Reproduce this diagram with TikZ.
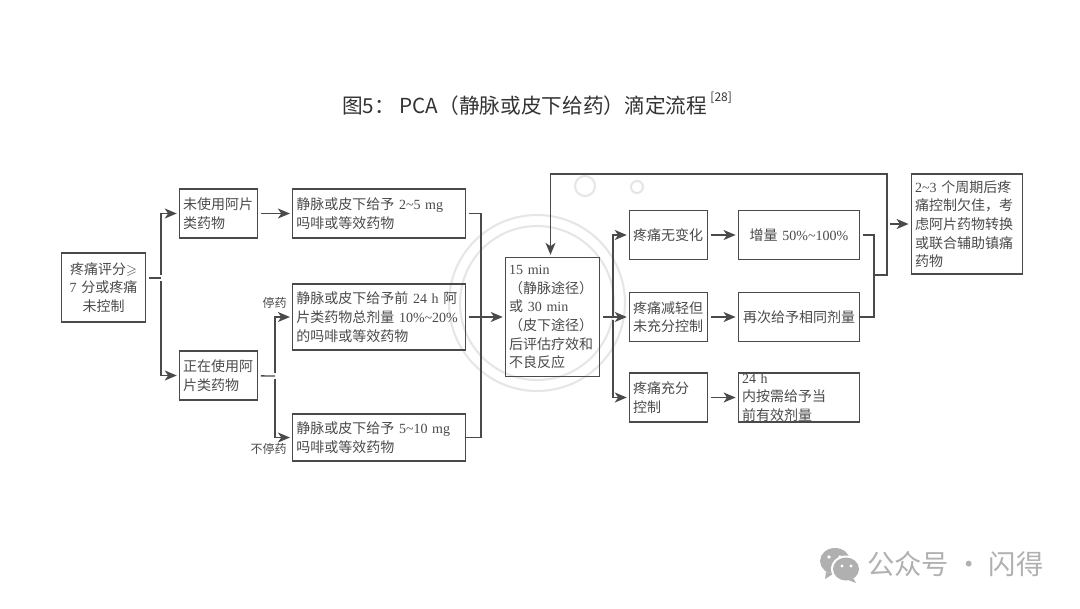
\documentclass[tikz,border=0pt]{standalone}
\usepackage{amssymb}
\usepackage{fontspec}
\setmainfont{Noto Sans CJK SC}
\newfontfamily\enfont{Liberation Serif}
\newcommand{\en}[1]{{\enfont #1}}
\newcommand{\tld}{\textasciitilde}
\usetikzlibrary{arrows.meta}
\definecolor{ink}{HTML}{4A4A4A}
\definecolor{sealgray}{HTML}{E6E6E6}
\definecolor{acctgray}{HTML}{B0B0B0}
\tikzstyle{box} = [rectangle, draw=ink, line width=1pt, text=ink, inner xsep=2.8pt, inner ysep=0pt, align=left, font=\fontsize{10.5}{14}\selectfont]
\tikzstyle{startbox} = [box, text width=57pt, minimum height=51.75pt, align=center]
\tikzstyle{askbox} = [box, text width=53pt, minimum height=36.75pt]
\tikzstyle{drugbox} = [box, text width=124pt, minimum height=36.75pt]
\tikzstyle{evalbox} = [box, text width=65pt, minimum height=89.25pt]
\tikzstyle{dosebox} = [box, text width=85.5pt, minimum height=36.75pt]
\tikzstyle{endbox} = [box, text width=78pt, minimum height=75pt]
\tikzstyle{line} = [draw=ink, line width=1pt, shorten <=2pt]
\tikzstyle{arrow} = [line, ->, >={Stealth[length=9pt,width=7.5pt,inset=2.5pt]}, shorten >=1.5pt]
\tikzstyle{side} = [text=ink, inner sep=0pt, font=\fontsize{9}{11}\selectfont]
\begin{document}
\begin{tikzpicture}[x=0.75pt, y=-0.75pt]
      \useasboundingbox (0,0) rectangle (1080,608);
      % seal behind the chart
      \draw [sealgray, line width=1.6pt] (537,303) circle (88);
      \draw [sealgray, line width=1.6pt] (537,303) circle (77);
      \draw [sealgray, line width=1.6pt] (585,186) circle (10);
      \draw [sealgray, line width=1.6pt] (637,187) circle (6);
      \node (title) at (537,104) [text=black!80, inner sep=0pt, font=\fontsize{15.5}{18}\selectfont]{图5： PCA（静脉或皮下给药）滴定流程\,\raisebox{1.1ex}{\fontsize{9}{9}\selectfont [28]}};
      % left part
      \node (start)[startbox] at (103.5,287.5){疼痛评分$\geqslant$\\\en{7} 分或疼痛\\未控制};
      \node (na)[askbox, right of=start, node distance=86.25pt, yshift=55.5pt]{未使用阿片\\类药物};
      \node (ot)[askbox, below of=na, node distance=121.5pt]{正在使用阿\\片类药物};
      \node (ma1)[drugbox, right of=na, node distance=120.375pt]{静脉或皮下给予 \en{2\tld5 mg}\\吗啡或等效药物};
      \node (ma2)[drugbox, right of=ot, node distance=120.375pt, yshift=43.875pt, minimum height=49.5pt]{静脉或皮下给予前 \en{24 h} 阿\\片类药物总剂量 \en{10\%\tld20\%}\\的吗啡或等效药物};
      \node (ma3)[drugbox, below of=ma2, node distance=90.375pt, minimum height=35.25pt]{静脉或皮下给予 \en{5\tld10 mg}\\吗啡或等效药物};
      \node (stop)[side, anchor=east] at (287,303){停药};
      \node (nostop)[side, anchor=east] at (287,449){不停药};
      % right part
      \node (eval)[evalbox, right of=ma2, node distance=130.125pt]{\en{15 min}\\（静脉途径）\\或 \en{30 min}\\（皮下途径）\\后评估疗效和\\不良反应};
      \node (r2)[askbox, right of=eval, node distance=87pt]{疼痛减轻但\\未充分控制};
      \node (r1)[askbox, above of=r2, node distance=61.5pt]{疼痛无变化};
      \node (r3)[askbox, below of=r2, node distance=60.375pt]{疼痛充分\\控制};
      \node (a1)[dosebox, right of=r1, node distance=97.875pt, align=center]{增量 \en{50\%\tld100\%}};
      \node (a2)[dosebox, right of=r2, node distance=97.875pt, align=center]{再次给予相同剂量};
      \node (a3)[dosebox, right of=r3, node distance=97.875pt]{\en{24 h} 内按需给予当\\前有效剂量};
      \node (final)[endbox, right of=a1, node distance=126pt, yshift=8.25pt]{\en{2\tld3} 个周期后疼\\痛控制欠佳，考\\虑阿片药物转换\\或联合辅助镇痛\\药物};
      \coordinate (s1) at (161,278);
      \coordinate (s2) at (275,376);
      \coordinate (s3) at (613,317);
      \coordinate (m1) at (481,317);
      \coordinate (m2) at (874,275);
      \coordinate (m3) at (887,275);
      \coordinate (top) at (887,174);
      \draw [line](start.east |- s1)--(s1);
      \draw [arrow](s1)|-(na);
      \draw [arrow](s1)|-(ot);
      \draw [arrow](na)--(ma1);
      \draw [line](ot)--(s2);
      \draw [arrow](s2)|-(ma2.west);
      \draw [arrow](s2)|-(ma3.west);
      \draw [line](ma1.east)-|(m1);
      \draw [line, shorten <=0pt](m1)|-(ma3.east);
      \draw [arrow](ma2)--(eval);
      \draw [line](eval)--(s3);
      \draw [arrow](s3)|-(r1);
      \draw [arrow](s3)|-(r2);
      \draw [arrow](s3)|-(r3);
      \draw [arrow](r1)--(a1);
      \draw [arrow](r2)--(a2);
      \draw [arrow](r3)--(a3);
      \draw [line](a1.east)-|(m2);
      \draw [line, shorten <=0pt](m2)|-(a2.east);
      \draw [arrow, shorten <=0pt](m2)--(m3)--(top)-|([xshift=-1.5pt]eval.north);
      \draw [arrow](m3 |- final)--(final);
      % account logo and name
      \fill [acctgray] (835,561) ellipse (15 and 13);
      \fill [acctgray] (826,572) -- (825,579) -- (833,574) -- cycle;
      \fill [white] (846,569) ellipse (15 and 13.5);
      \fill [acctgray] (846,569) ellipse (13 and 11.5);
      \fill [acctgray] (853,578) -- (856,583) -- (848,580) -- cycle;
      \fill [white] (829,557) circle (1.8) (840,557) circle (1.8) (842,566) circle (1.6) (851,566) circle (1.6);
      \node (account)[text=acctgray, inner sep=0pt, anchor=west, font=\fontsize{20.5}{24}\selectfont] at (867,564){公众号 · 闪得};
    \end{tikzpicture}
\end{document}
